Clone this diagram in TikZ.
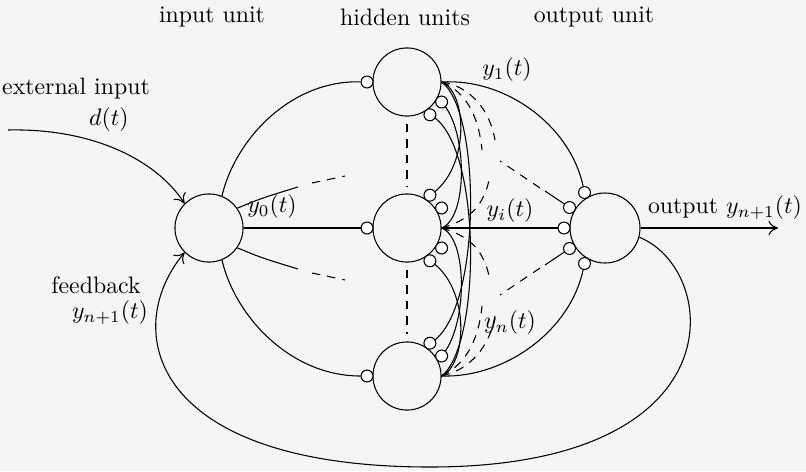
\documentclass[tikz,border=0pt]{standalone}
\usetikzlibrary{arrows.meta,calc}
\begin{document}
\begin{tikzpicture}[x=0.42pt,y=-0.42pt,
  unit/.style={circle,draw,minimum size=28.6pt,inner sep=0pt},
  syn/.style={circle,draw,minimum size=5pt,inner sep=0pt,fill=white},
  arr/.style={-{To[length=4pt,width=6pt]}},
  dsh/.style={dash pattern=on 3.5pt off 3pt},
  line width=0.45pt]
\fill[white!96!black] (0,0) rectangle (806,471);
\useasboundingbox (0,0) rectangle (806,471);
% units
\node[unit] (I) at (209,228) {};
\node[unit] (H1) at (407,82) {};
\node[unit] (H2) at (407,228) {};
\node[unit] (H3) at (407,376) {};
\node[unit,minimum size=29.4pt] (O) at (605,228) {};
% texts
\node (tin) at (212,17) {input unit};
\node (thid) at (405,17) {hidden units};
\node (tout) at (594,17) {output unit};
\node (ext) at (76,89) {external input};
\node (dt) at (109,120) {$d(t)$};
\node (fb) at (96,285) {feedback};
\node (yfb) at (110,313) {$y_{n+1}(t)$};
\node (y0) at (272,207) {$y_0(t)$};
\node (y1) at (507,70) {$y_1(t)$};
\node (yi) at (510,211) {$y_i(t)$};
\node (yn) at (510,323) {$y_n(t)$};
\node (yout) at (725,208) {output $y_{n+1}(t)$};
\coordinate (xin) at (8,130);
\coordinate (xout) at (778,228);
% external / feedback / output
\draw[arr] (xin) .. controls (100,128) and (160,165) .. (I.135);
\draw[arr] (O.-15) .. controls (720,270) and (740,467) .. (430,467) .. controls (150,467) and (120,330) .. (I.-135);
\draw[arr] (O.east) -- (xout);
% recurrent hidden connections (drawn before synapses)
\draw (H1.east) .. controls (468,92) and (470,170) .. (429.9,195.2);
\draw (H2.east) .. controls (468,218) and (468,130) .. (441.6,102);
\draw (H2.east) .. controls (468,238) and (468,326) .. (441.6,356);
\draw (H3.east) .. controls (468,364) and (470,286) .. (429.9,260.8);
\draw (H3.east) .. controls (482,345) and (482,140) .. (429.9,114.8);
\draw (H1.east) .. controls (482,111) and (482,316) .. (429.9,343.2);
\draw[dsh] (H1.east) .. controls (462,90) and (478,110) .. (482,150);
\draw[dsh] (H1.east) .. controls (470,86) and (490,110) .. (495,140);
\draw[dsh] (H2.east) .. controls (470,220) and (485,205) .. (490,175);
\draw[dsh] (H2.east) .. controls (470,236) and (485,251) .. (490,281);
\draw[dsh] (H3.east) .. controls (462,366) and (478,346) .. (482,306);
\draw[dsh] (H3.east) .. controls (470,370) and (490,346) .. (495,316);
% synapses
\node[syn] (s1) at (367,82) {};
\node[syn] (s2) at (367,228) {};
\node[syn] (s3) at (367,376) {};
\node[syn] (h1a) at (441.6,102) {};
\node[syn] (h1b) at (429.9,114.8) {};
\node[syn] (h2a) at (429.9,195.2) {};
\node[syn] (h2b) at (441.6,208) {};
\node[syn] (h2c) at (441.6,248) {};
\node[syn] (h2d) at (429.9,260.8) {};
\node[syn] (h3a) at (429.9,343.2) {};
\node[syn] (h3b) at (441.6,356) {};
\node[syn] (o1) at (584.5,192.5) {};
\node[syn] (o2) at (569.5,207.5) {};
\node[syn] (o3) at (564,228) {};
\node[syn] (o4) at (569.5,248.5) {};
\node[syn] (o5) at (584.5,263.5) {};
% input to hidden
\draw (I.68) .. controls (235,140) and (290,80) .. (s1);
\draw (I.east) -- (s2);
\draw (I.-68) .. controls (235,316) and (290,376) .. (s3);
\draw (I.35) .. controls (262,198) .. (298,187);
\draw[dsh] (312,183) -- (345,176);
\draw (I.-35) .. controls (262,258) .. (298,269);
\draw[dsh] (312,273) -- (345,280);
% vertical dashes
\draw[dsh] (407,124) -- (407,186);
\draw[dsh] (407,270) -- (407,334);
% hidden to output
\draw (H1.east) .. controls (505,78) and (570,125) .. (o1);
\draw (H2.east) -- (o3);
\draw (H3.east) .. controls (505,378) and (570,331) .. (o5);
\draw (o2) -- (545,191);
\draw[dsh] (540,188) -- (500,161);
\draw (o4) -- (545,265);
\draw[dsh] (540,268) -- (500,295);
\end{tikzpicture}
\end{document}
